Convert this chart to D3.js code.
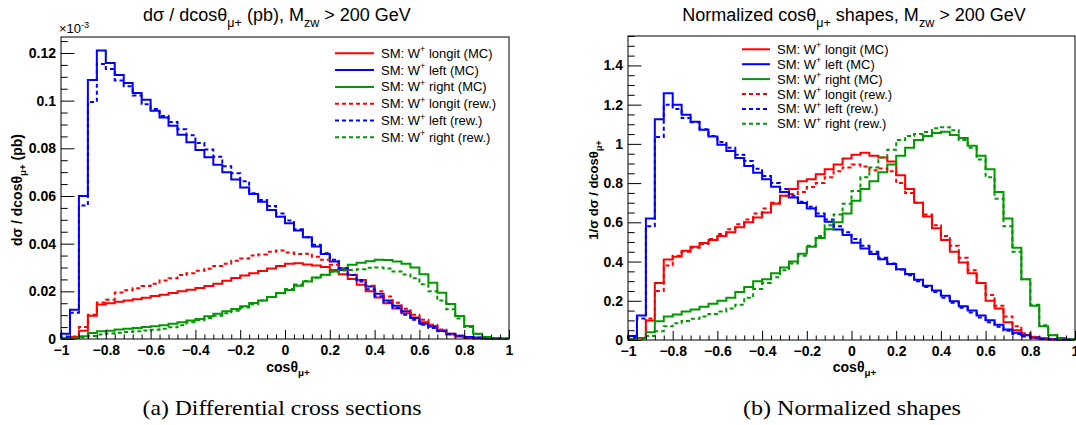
<!DOCTYPE html>
<html><head><meta charset="utf-8">
<script src="https://cdn.jsdelivr.net/npm/d3@7"></script>
<style>
body{margin:0;background:#fff}
svg{display:block}
</style>
</head><body>
<svg id="c" width="1076" height="425"></svg>
<script>
// ---------- DATA ----------
const binEdges = [-1.00,-0.96,-0.92,-0.88,-0.84,-0.80,-0.76,-0.72,-0.68,-0.64,-0.60,-0.56,-0.52,-0.48,-0.44,-0.40,-0.36,-0.32,-0.28,-0.24,-0.20,-0.16,-0.12,-0.08,-0.04,0.00,0.04,0.08,0.12,0.16,0.20,0.24,0.28,0.32,0.36,0.40,0.44,0.48,0.52,0.56,0.60,0.64,0.68,0.72,0.76,0.80,0.84,0.88,0.92,0.96,1.00];

// left panel: d sigma / d cos (axis units, x10^-3)
const xsLongitMC = [0.0003,0.0008,0.0035,0.0098,0.0145,0.0150,0.0156,0.0161,0.0167,0.0173,0.0180,0.0186,0.0193,0.0200,0.0207,0.0214,0.0222,0.0232,0.0244,0.0256,0.0266,0.0276,0.0285,0.0296,0.0306,0.0316,0.0318,0.0313,0.0308,0.0302,0.0290,0.0272,0.0252,0.0228,0.0200,0.0174,0.0150,0.0128,0.0108,0.0090,0.0070,0.0052,0.0034,0.0019,0.0010,0.0005,0.0003,0.0002,0.0001,0.0001];
const xsLeftMC   = [0.0022,0.0123,0.0600,0.1087,0.1210,0.1158,0.1108,0.1074,0.1032,0.1004,0.0958,0.0929,0.0895,0.0857,0.0825,0.0793,0.0762,0.0731,0.0700,0.0669,0.0636,0.0608,0.0576,0.0541,0.0513,0.0486,0.0455,0.0427,0.0388,0.0357,0.0325,0.0290,0.0269,0.0248,0.0220,0.0190,0.0162,0.0140,0.0116,0.0088,0.0064,0.0053,0.0036,0.0022,0.0014,0.0008,0.0006,0.0003,0.0002,0.0001];
const xsRightMC  = [0.0002,0.0005,0.0012,0.0025,0.0032,0.0035,0.0040,0.0043,0.0046,0.0050,0.0053,0.0058,0.0064,0.0070,0.0078,0.0084,0.0095,0.0106,0.0116,0.0126,0.0137,0.0151,0.0162,0.0176,0.0193,0.0206,0.0223,0.0241,0.0258,0.0270,0.0283,0.0297,0.0311,0.0320,0.0326,0.0332,0.0331,0.0325,0.0316,0.0300,0.0272,0.0236,0.0194,0.0147,0.0097,0.0055,0.0022,0.0008,0.0003,0.0001];
const xsLongitRew = [0.0003,0.0010,0.0050,0.0102,0.0153,0.0165,0.0195,0.0205,0.0213,0.0222,0.0232,0.0245,0.0255,0.0268,0.0276,0.0286,0.0295,0.0306,0.0316,0.0328,0.0338,0.0350,0.0355,0.0366,0.0371,0.0363,0.0357,0.0358,0.0345,0.0332,0.0312,0.0293,0.0270,0.0248,0.0223,0.0200,0.0178,0.0152,0.0127,0.0102,0.0081,0.0060,0.0040,0.0022,0.0011,0.0005,0.0003,0.0002,0.0001,0.0001];
const xsLeftRew   = [0.0010,0.0110,0.0560,0.0994,0.1154,0.1133,0.1085,0.1060,0.1022,0.0985,0.0965,0.0936,0.0910,0.0880,0.0855,0.0822,0.0795,0.0765,0.0725,0.0695,0.0662,0.0611,0.0583,0.0558,0.0527,0.0497,0.0460,0.0427,0.0395,0.0360,0.0332,0.0297,0.0269,0.0241,0.0209,0.0179,0.0153,0.0130,0.0102,0.0081,0.0060,0.0046,0.0032,0.0021,0.0014,0.0008,0.0005,0.0003,0.0002,0.0001];
const xsRightRew  = [0.0001,0.0003,0.0007,0.0013,0.0019,0.0023,0.0026,0.0029,0.0032,0.0036,0.0039,0.0043,0.0049,0.0058,0.0070,0.0079,0.0088,0.0098,0.0108,0.0119,0.0132,0.0146,0.0161,0.0176,0.0192,0.0210,0.0229,0.0243,0.0257,0.0268,0.0282,0.0287,0.0290,0.0293,0.0299,0.0300,0.0296,0.0283,0.0271,0.0255,0.0230,0.0200,0.0161,0.0125,0.0086,0.0050,0.0021,0.0007,0.0002,0.0001];

// right panel: normalized shapes
const shLongitMC = [0.005,0.010,0.100,0.290,0.410,0.425,0.455,0.475,0.495,0.510,0.530,0.550,0.575,0.600,0.625,0.650,0.695,0.735,0.770,0.810,0.820,0.845,0.870,0.895,0.925,0.945,0.955,0.940,0.930,0.910,0.840,0.770,0.700,0.630,0.570,0.510,0.450,0.395,0.340,0.290,0.200,0.160,0.090,0.050,0.025,0.012,0.006,0.003,0.002,0.001];
const shLeftMC   = [0.020,0.125,0.620,1.126,1.258,1.200,1.149,1.113,1.072,1.038,0.995,0.964,0.928,0.887,0.853,0.819,0.781,0.754,0.726,0.699,0.670,0.631,0.603,0.564,0.535,0.496,0.467,0.439,0.412,0.388,0.361,0.336,0.307,0.277,0.253,0.226,0.197,0.172,0.150,0.125,0.101,0.078,0.054,0.037,0.024,0.014,0.008,0.005,0.003,0.002];
const shRightMC  = [0.005,0.010,0.040,0.095,0.120,0.130,0.145,0.155,0.170,0.185,0.200,0.215,0.245,0.270,0.300,0.310,0.340,0.370,0.400,0.440,0.475,0.520,0.565,0.600,0.645,0.710,0.770,0.810,0.855,0.895,0.940,0.980,1.020,1.040,1.055,1.062,1.045,1.030,0.990,0.940,0.870,0.755,0.620,0.470,0.310,0.175,0.070,0.024,0.010,0.004];
const shLongitRew = [0.005,0.010,0.110,0.250,0.380,0.430,0.450,0.470,0.490,0.515,0.540,0.565,0.590,0.615,0.645,0.670,0.700,0.735,0.745,0.755,0.780,0.800,0.830,0.860,0.880,0.895,0.885,0.865,0.875,0.860,0.800,0.750,0.700,0.640,0.585,0.530,0.480,0.420,0.355,0.290,0.230,0.175,0.120,0.070,0.035,0.017,0.008,0.004,0.002,0.001];
const shLeftRew   = [0.010,0.110,0.580,1.035,1.200,1.178,1.132,1.110,1.075,1.040,1.010,0.980,0.945,0.913,0.873,0.836,0.800,0.770,0.735,0.705,0.680,0.645,0.615,0.580,0.550,0.515,0.480,0.450,0.420,0.390,0.360,0.330,0.300,0.270,0.245,0.215,0.190,0.165,0.140,0.115,0.090,0.068,0.047,0.030,0.018,0.010,0.006,0.004,0.002,0.001];
const shRightRew  = [0.003,0.006,0.020,0.045,0.070,0.085,0.097,0.108,0.120,0.133,0.145,0.160,0.180,0.215,0.260,0.290,0.320,0.355,0.390,0.430,0.480,0.530,0.585,0.640,0.695,0.760,0.830,0.880,0.930,0.970,1.020,1.040,1.050,1.060,1.080,1.085,1.070,1.020,0.980,0.920,0.830,0.720,0.580,0.450,0.310,0.180,0.075,0.025,0.008,0.003];

const legendLabels = ["longit (MC)","left (MC)","right (MC)","longit (rew.)","left (rew.)","right (rew.)"];
const xTickLabels = [-1,-0.8,-0.6,-0.4,-0.2,0,0.2,0.4,0.6,0.8,1];
const yTicksLeft  = [0,0.02,0.04,0.06,0.08,0.1,0.12];
const yTicksRight = [0,0.2,0.4,0.6,0.8,1,1.2,1.4];

// ---------- DRAW ----------
const SANS = "'Liberation Sans',Arial,Helvetica,sans-serif";
const SERIF = "'Liberation Serif','Times New Roman',Times,serif";
const svg = d3.select("#c");
svg.append("rect").attr("width",1076).attr("height",425).attr("fill","#fff");

const RED="#ff0000", BLUE="#0000ff", GREEN="#009a00";

function txt(parent){ return parent.append("text").style("font-family",SANS).attr("fill","#000"); }
function rich(sel, parts, fs){
  let back = 0;
  parts.forEach(p=>{
    const t = sel.append("tspan").text(p.t);
    let dy = back; back = 0;
    if(p.sub){ dy += fs*0.32; back = -fs*0.32; t.attr("font-size",fs*0.7); }
    else if(p.sup){ dy -= fs*0.42; back = fs*0.42; t.attr("font-size",fs*0.7); }
    if(dy) t.attr("dy",dy);
  });
}
const fmtNum = v => v===0 ? "0" : (v<0 ? "\u2212" : "") + String(+Math.abs(v).toFixed(3));

function drawPanel(p){
  const x = d3.scaleLinear().domain([-1,1]).range([p.x0,p.x1]);
  const y = d3.scaleLinear().domain([0,p.ymax]).range([p.y1,p.y0]);
  const g = svg.append("g");
  const line = d3.line().x(d=>x(d[0])).y(d=>y(d[1]));
  p.series.forEach(s=>{
    const pts=[[binEdges[0],0]];
    s.values.forEach((v,i)=>{pts.push([binEdges[i],v]);pts.push([binEdges[i+1],v]);});
    pts.push([binEdges[binEdges.length-1],0]);
    g.append("path").attr("d",line(pts)).attr("fill","none")
      .attr("stroke",s.color).attr("stroke-width",2)
      .attr("stroke-dasharray",s.dashed?"4,3":null);
  });
  g.append("rect").attr("x",p.x0).attr("y",p.y0).attr("width",p.x1-p.x0).attr("height",p.y1-p.y0)
    .attr("fill","none").attr("stroke","#000").attr("stroke-width",1);
  const yMinor = d3.range(0,p.ymax+1e-9,p.yMinorStep).filter(v=>!p.yTicks.some(t=>Math.abs(t-v)<1e-9));
  const ya = g.append("g").attr("transform",`translate(${p.x0},0)`)
    .call(d3.axisLeft(y).tickValues(p.yTicks).tickSizeInner(-(p.x1-p.x0)*0.03).tickSizeOuter(0).tickPadding(5).tickFormat(fmtNum));
  const ym = g.append("g").attr("transform",`translate(${p.x0},0)`)
    .call(d3.axisLeft(y).tickValues(yMinor).tickSizeInner(-(p.x1-p.x0)*0.015).tickSizeOuter(0).tickFormat(""));
  const xMinor = d3.range(-1,1.0001,0.04).filter(v=>!xTickLabels.some(t=>Math.abs(t-v)<1e-6));
  const xa = g.append("g").attr("transform",`translate(0,${p.y1})`)
    .call(d3.axisBottom(x).tickValues(xTickLabels).tickSizeInner(-(p.y1-p.y0)*0.03).tickSizeOuter(0).tickPadding(6).tickFormat(fmtNum));
  const xm = g.append("g").attr("transform",`translate(0,${p.y1})`)
    .call(d3.axisBottom(x).tickValues(xMinor).tickSizeInner(-(p.y1-p.y0)*0.015).tickSizeOuter(0).tickFormat(""));
  [ya,ym,xa,xm].forEach(a=>{
    a.select(".domain").remove();
    a.selectAll("line").attr("stroke","#000").attr("stroke-width",1);
    a.selectAll("text").attr("font-size",14).attr("font-weight","bold")
      .style("font-family",SANS).attr("fill","#000");
  });
  const t = txt(svg).attr("x",p.titleX).attr("y",21).attr("text-anchor","middle").attr("font-size",18);
  rich(t,p.title,18);
  const xt = txt(svg).attr("x",(p.x0+p.x1)/2+3).attr("y",372).attr("text-anchor","middle")
    .attr("font-size",14).attr("font-weight","bold");
  rich(xt,[{t:"cos\u03b8"},{t:"\u03bc+",sub:true}],14);
  const yt = txt(svg).attr("transform",`translate(${p.yTitleX},${(p.y0+p.y1)/2+2}) rotate(-90)`)
    .attr("text-anchor","middle").attr("font-size",p.yTitleSize).attr("font-weight","bold");
  rich(yt,p.yTitle,p.yTitleSize);
  const colors=[RED,BLUE,GREEN,RED,BLUE,GREEN];
  legendLabels.forEach((lab,i)=>{
    const cy = p.legY0 + i*p.legDy;
    g.append("line").attr("x1",p.legX).attr("x2",p.legX+p.legLen).attr("y1",cy).attr("y2",cy)
      .attr("stroke",colors[i]).attr("stroke-width",2).attr("stroke-dasharray",i>=3?"4,3":null);
    const tx = txt(g).attr("x",p.legX+p.legLen+7).attr("y",cy+4.5).attr("font-size",13);
    rich(tx,[{t:"SM: W"},{t:"+",sup:true},{t:" "+lab}],13);
  });
}

drawPanel({
  x0:61,x1:509,y0:37,y1:339,ymax:0.1267,yTicks:yTicksLeft,yMinorStep:0.005,
  titleX:277,title:[{t:"d\u03c3 / dcos\u03b8"},{t:"\u03bc+",sub:true},{t:" (pb), M"},{t:"zw",sub:true},{t:" > 200 GeV"}],
  yTitleX:22,yTitleSize:14,yTitle:[{t:"d\u03c3 / dcos\u03b8"},{t:"\u03bc+",sub:true},{t:" (pb)"}],
  legX:335,legLen:39,legY0:53.3,legDy:16.8,
  series:[
    {values:xsLongitMC,color:RED},{values:xsLeftMC,color:BLUE},{values:xsRightMC,color:GREEN},
    {values:xsLongitRew,color:RED,dashed:true},{values:xsLeftRew,color:BLUE,dashed:true},{values:xsRightRew,color:GREEN,dashed:true}]
});
drawPanel({
  x0:628,x1:1075,y0:36,y1:340,ymax:1.55,yTicks:yTicksRight,yMinorStep:0.05,
  titleX:854,title:[{t:"Normalized cos\u03b8"},{t:"\u03bc+",sub:true},{t:" shapes, M"},{t:"zw",sub:true},{t:" > 200 GeV"}],
  yTitleX:598,yTitleSize:13,yTitle:[{t:"1/\u03c3 d\u03c3 / dcos\u03b8"},{t:"\u03bc+",sub:true}],
  legX:742,legLen:28,legY0:49.3,legDy:14.9,
  series:[
    {values:shLongitMC,color:RED},{values:shLeftMC,color:BLUE},{values:shRightMC,color:GREEN},
    {values:shLongitRew,color:RED,dashed:true},{values:shLeftRew,color:BLUE,dashed:true},{values:shRightRew,color:GREEN,dashed:true}]
});

const ex = txt(svg).attr("x",59).attr("y",33).attr("font-size",13);
rich(ex,[{t:"\u00d710"},{t:"-3",sup:true}],13);

svg.append("text").attr("x",282).attr("y",415).attr("text-anchor","middle").attr("fill","#000")
  .style("font-family",SERIF).attr("font-size",21)
  .attr("textLength",279).attr("lengthAdjust","spacingAndGlyphs").text("(a) Differential cross sections");
svg.append("text").attr("x",852).attr("y",415).attr("text-anchor","middle").attr("fill","#000")
  .style("font-family",SERIF).attr("font-size",21)
  .attr("textLength",218).attr("lengthAdjust","spacingAndGlyphs").text("(b) Normalized shapes");
</script>
</body></html>
